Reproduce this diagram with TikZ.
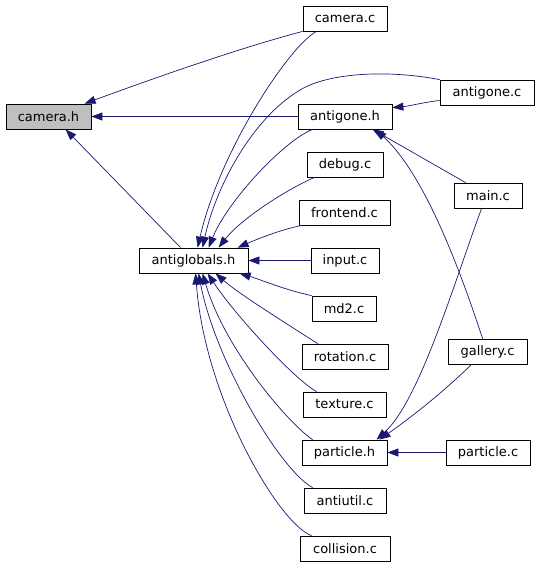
\documentclass[tikz,border=0pt]{standalone}
\usepackage{fontspec}
\setmainfont{DejaVu Sans}
\usetikzlibrary{arrows.meta}
\definecolor{edgeblue}{HTML}{191970}
\begin{document}
\begin{tikzpicture}[x=1pt,y=-1pt,
  filebox/.style={draw=black,line width=0.8pt,fill=white,inner sep=0pt,minimum height=25pt,font=\fontsize{13}{15}\selectfont},
  edge/.style={draw=edgeblue,line width=0.7pt,-{Triangle[length=11pt,width=8pt]}}]
\useasboundingbox (0,0) rectangle (539,565);
% nodes
\node[filebox,fill={rgb,255:red,191;green,191;blue,191},minimum width=85pt] (camh) at (48.5,116.5) {camera.h};
\node[filebox,minimum width=84pt] (camc) at (345,18.5) {camera.c};
\node[filebox,minimum width=94pt] (agc) at (487,92.5) {antigone.c};
\node[filebox,minimum width=94pt] (agh) at (345,116.5) {antigone.h};
\node[filebox,minimum width=76pt] (debug) at (345,164.5) {debug.c};
\node[filebox,minimum width=68pt] (mainc) at (488,195.5) {main.c};
\node[filebox,minimum width=91pt] (front) at (344.5,212.5) {frontend.c};
\node[filebox,minimum width=68pt] (input) at (345,260.5) {input.c};
\node[filebox,minimum width=109pt] (agl) at (193.5,260.5) {antiglobals.h};
\node[filebox,minimum width=64pt] (md2) at (344,308.5) {md2.c};
\node[filebox,minimum width=86pt] (rot) at (345,356.5) {rotation.c};
\node[filebox,minimum width=79pt] (gal) at (487.5,351.5) {gallery.c};
\node[filebox,minimum width=83pt] (tex) at (344.5,404.5) {texture.c};
\node[filebox,minimum width=85pt] (parth) at (344.5,452.5) {particle.h};
\node[filebox,minimum width=84pt] (partc) at (488,452.5) {particle.c};
\node[filebox,minimum width=82pt] (util) at (345,500.5) {antiutil.c};
\node[filebox,minimum width=90pt] (coll) at (345,548.5) {collision.c};
% edges into camera.h
\draw[edge] (camc.south west) .. controls (240,48) and (160,76) .. ([xshift=79pt]camh.north west);
\draw[edge] (agh.west) -- (camh.east);
\draw[edge] ([xshift=42pt]agl.north west) -- ([xshift=60pt]camh.south west);
% edges into antigone.h
\draw[edge] ([yshift=-8pt]agc.west) .. controls (425,102) and (410,106) .. ([yshift=-4pt]agh.north east);
\draw[edge] ([xshift=12pt]mainc.north west) -- ([xshift=75pt]agh.south west);
\draw[edge] ([xshift=35pt]gal.north west) .. controls (460,270) and (425,175) .. ([xshift=78pt]agh.south west);
% edges into particle.h
\draw[edge] ([xshift=28pt]mainc.south west) .. controls (455,280) and (420,400) .. ([xshift=75pt]parth.north west);
\draw[edge] ([xshift=24pt]gal.south west) .. controls (440,395) and (410,418) .. ([xshift=78pt]parth.north west);
\draw[edge] (partc.west) -- (parth.east);
% edges into antiglobals.h
\draw[edge] ([xshift=14pt]camc.south west) .. controls (290,45) and (220,150) .. ([xshift=59pt]agl.north west);
\draw[edge] (agc.north west) .. controls (390,70) and (330,72) .. (300,90) .. controls (250,120) and (215,190) .. ([xshift=64pt]agl.north west);
\draw[edge] ([xshift=15pt]agh.south west) .. controls (285,140) and (228,200) .. ([xshift=70pt]agl.north west);
\draw[edge] ([xshift=8pt]debug.south west) .. controls (285,190) and (240,220) .. ([xshift=80pt]agl.north west);
\draw[edge] ([xshift=3pt]front.south west) .. controls (280,230) and (260,238) .. ([xshift=99pt]agl.north west);
\draw[edge] (input.west) -- (agl.east);
\draw[edge] (md2.north west) .. controls (285,290) and (262,280) .. ([xshift=101pt]agl.south west);
\draw[edge] ([xshift=16pt]rot.north west) .. controls (300,332) and (240,295) .. ([xshift=77pt]agl.south west);
\draw[edge] ([xshift=14pt]tex.north west) .. controls (295,380) and (235,315) .. ([xshift=69pt]agl.south west);
\draw[edge] ([xshift=11pt]parth.north west) .. controls (290,425) and (225,350) .. ([xshift=64pt]agl.south west);
\draw[edge] ([xshift=9pt]util.north west) .. controls (280,470) and (215,360) .. ([xshift=60pt]agl.south west);
\draw[edge] ([xshift=12pt]coll.north west) .. controls (280,525) and (205,400) .. ([xshift=57pt]agl.south west);
\end{tikzpicture}
\end{document}
